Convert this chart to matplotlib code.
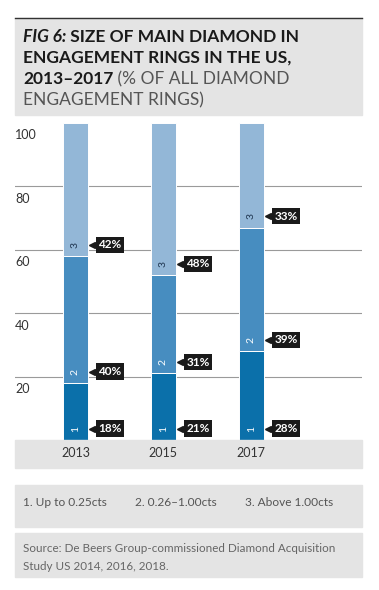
import matplotlib
matplotlib.use('Agg')
import matplotlib.pyplot as plt
from matplotlib.patches import Rectangle

years = ['2013', '2015', '2017']
small = [18, 21, 28]     # 1. up to 0.25cts
medium = [40, 31, 39]    # 2. 0.26-1.00cts
large = [42, 48, 33]     # 3. above 1.00cts
yticks = [20, 40, 60, 80, 100]
legend_items = ['1. Up to 0.25cts', '2. 0.26\u20131.00cts', '3. Above 1.00cts']
source = ['Source: De Beers Group-commissioned Diamond Acquisition',
          'Study US 2014, 2016, 2018.']

plt.rcParams['font.family'] = ['Lato', 'DejaVu Sans']

W, H = 379, 590
fig = plt.figure(figsize=(W / 100, H / 100), dpi=100)
fig.patch.set_facecolor('white')

def fx(px):
    return px / W

def fy(py):
    return 1 - py / H

def box(x0, y0, x1, y1, color):
    fig.patches.append(Rectangle((fx(x0), fy(y1)), fx(x1) - fx(x0), fy(y0) - fy(y1),
                                 transform=fig.transFigure, color=color, zorder=0))

grey = '#e4e4e4'
# title box
box(15, 18, 362, 115, grey)
fig.add_artist(plt.Line2D([fx(15), fx(362)], [fy(18), fy(18)], color='#333333', lw=1.0))
# x label band, legend, source
box(15, 440, 362, 468, grey)
box(15, 485, 362, 527, grey)
box(15, 533, 362, 577, grey)

# title, drawn in pieces
renderer = fig.canvas.get_renderer()
title_lines = [
    [('FIG 6:', 'bold', 'italic', '#1a1a1a'), (' SIZE OF MAIN DIAMOND IN', 'bold', 'normal', '#1a1a1a')],
    [('ENGAGEMENT RINGS IN THE US,', 'bold', 'normal', '#1a1a1a')],
    [('2013\u20132017', 'bold', 'normal', '#1a1a1a'), (' (% OF ALL DIAMOND', 'normal', 'normal', '#555555')],
    [('ENGAGEMENT RINGS)', 'normal', 'normal', '#555555')],
]
line_y = [37, 58, 79, 100]
for parts, ly in zip(title_lines, line_y):
    x = 23
    for s, wgt, sty, col in parts:
        t = fig.text(fx(x), fy(ly), s, fontsize=12.5, fontweight=wgt, fontstyle=sty,
                     color=col, ha='left', va='center')
        x += t.get_window_extent(renderer).width

# chart
ax = fig.add_axes([fx(15), fy(440), fx(362) - fx(15), fy(123) - fy(440)])
ax.set_xlim(-0.6875, 3.26)
ax.set_ylim(0, 100)
ax.axis('off')

for v in yticks:
    if v < 100:
        ax.axhline(v, color='#9a9a9a', lw=0.8, zorder=0)
    ax.text(-0.6875, v - 2, str(v), fontsize=9, color='#333333', ha='left', va='top')

c1, c2, c3 = '#0b70aa', '#478dc0', '#93b7d7'
w = 0.285
pos = list(range(len(years)))
bottom2 = [a for a in small]
bottom3 = [a + b for a, b in zip(small, medium)]
ax.bar(pos, small, w, color=c1, edgecolor='white', lw=0.7, zorder=2)
ax.bar(pos, medium, w, bottom=bottom2, color=c2, edgecolor='white', lw=0.7, zorder=2)
ax.bar(pos, large, w, bottom=bottom3, color=c3, edgecolor='white', lw=0.7, zorder=2)

for i in pos:
    segs = [(0, small[i], '1', 'white'),
            (bottom2[i], medium[i], '2', 'white'),
            (bottom3[i], large[i], '3', '#1f3550')]
    for b, v, num, nc in segs:
        y = b + 3.6
        ax.text(i, y, num, rotation=90, fontsize=7.5, color=nc, ha='center', va='center', zorder=4)
        ax.plot(i + w / 2 + 0.05, y, marker='<', ms=5, color='#1a1a1a', zorder=4)
        ax.annotate(f'{v}%', xy=(i + w / 2, y), xytext=(7.5, 0), textcoords='offset points',
                    fontsize=8.5, fontweight='bold', color='white', ha='left', va='center',
                    bbox=dict(boxstyle='square,pad=0.22', fc='#1a1a1a', ec='none'), zorder=5)

# years under the bars
for i, yr in enumerate(years):
    fig.text(ax.transData.transform((i, 0))[0] / fig.dpi / fig.get_figwidth(), fy(453), yr,
             fontsize=9, color='#333333', ha='center', va='center')

# legend row
for s, x in zip(legend_items, [23, 135, 245]):
    fig.text(fx(x), fy(502), s, fontsize=8.6, color='#555555', ha='left', va='center')

# source
for s, ly in zip(source, [549, 566]):
    fig.text(fx(23), fy(ly), s, fontsize=8.4, color='#666666', ha='left', va='center')

plt.savefig('out.png', dpi=100)
